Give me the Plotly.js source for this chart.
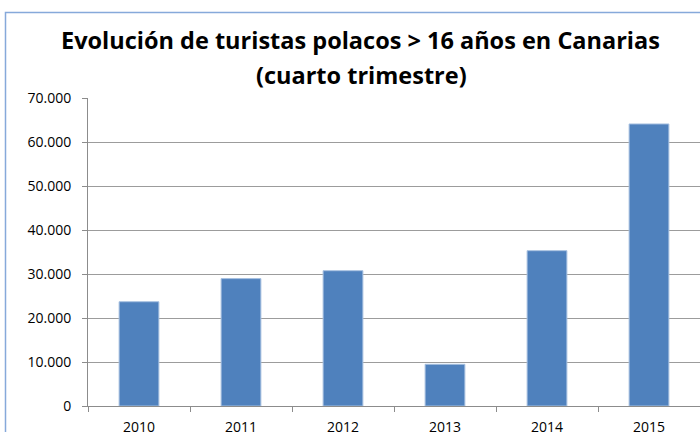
<!DOCTYPE html>
<html>
<head>
<meta charset="utf-8">
<script src="https://cdn.plot.ly/plotly-3.0.1.min.js"></script>
<style>html,body{margin:0;padding:0;background:#fff;overflow:hidden}#chart{width:700px;height:432px}</style>
</head>
<body>
<div id="chart"></div>
<script>
const years = ["2010", "2011", "2012", "2013", "2014", "2015"];
const tourists = [23700, 28950, 30750, 9480, 35300, 64100];
const yTicks = [0, 10000, 20000, 30000, 40000, 50000, 60000, 70000];
const titleLine1 = "Evolución de turistas polacos > 16 años en Canarias";
const titleLine2 = "(cuarto trimestre)";

const L = 88, T = 98, PW = 612, PH = 308;
const px2x = p => (p - L) / PW;
const py2y = p => 1 + (T - p) / PH;

const trace = {
  type: "bar",
  x: years,
  y: tourists,
  marker: {color: "#4F81BD", line: {color: "#A7C0E0", width: 1}},
  hoverinfo: "x+y"
};

const titleFont = {family: "Open Sans, sans-serif", size: 23.5, color: "#000000", weight: "bold"};

const layout = {
  width: 700, height: 432,
  margin: {l: L, r: 0, t: T, b: 26, pad: 0},
  paper_bgcolor: "#ffffff",
  plot_bgcolor: "#ffffff",
  separators: ",.",
  bargap: 0.61,
  showlegend: false,
  font: {family: "Open Sans, sans-serif", color: "#000000"},
  title: {text: ""},
  annotations: [
    {
      text: "<b>" + titleLine1 + "</b>",
      xref: "paper", yref: "paper",
      x: px2x(360), y: py2y(40),
      xanchor: "center", yanchor: "middle",
      showarrow: false, font: titleFont
    },
    {
      text: "<b>" + titleLine2 + "</b>",
      xref: "paper", yref: "paper",
      x: px2x(361), y: py2y(75),
      xanchor: "center", yanchor: "middle",
      showarrow: false, font: titleFont
    }
  ],
  xaxis: {
    type: "category",
    showgrid: false,
    showline: true, linecolor: "#8C8C8C", linewidth: 1,
    ticks: "outside", tickson: "boundaries", ticklen: 5, tickcolor: "#8C8C8C",
    tickfont: {size: 14, color: "#000000"},
    ticklabelstandoff: 8,
    fixedrange: true
  },
  yaxis: {
    range: [0, 70000],
    tickvals: yTicks,
    tickformat: ",d",
    showgrid: true, gridcolor: "#9C9C9C", gridwidth: 1,
    showline: true, linecolor: "#8C8C8C", linewidth: 1,
    zeroline: false,
    ticks: "outside", ticklen: 5, tickcolor: "#8C8C8C",
    tickfont: {size: 14, color: "#000000"},
    ticklabelstandoff: 8,
    fixedrange: true
  },
  shapes: [{
    type: "rect", xref: "paper", yref: "paper", layer: "below",
    x0: px2x(5.5), x1: 1.2,
    y0: -0.3, y1: py2y(12.5),
    line: {color: "#86A9DA", width: 1.5},
    fillcolor: "rgba(0,0,0,0)"
  }]
};

Plotly.newPlot("chart", [trace], layout, {displayModeBar: false, staticPlot: true});
</script>
</body>
</html>
